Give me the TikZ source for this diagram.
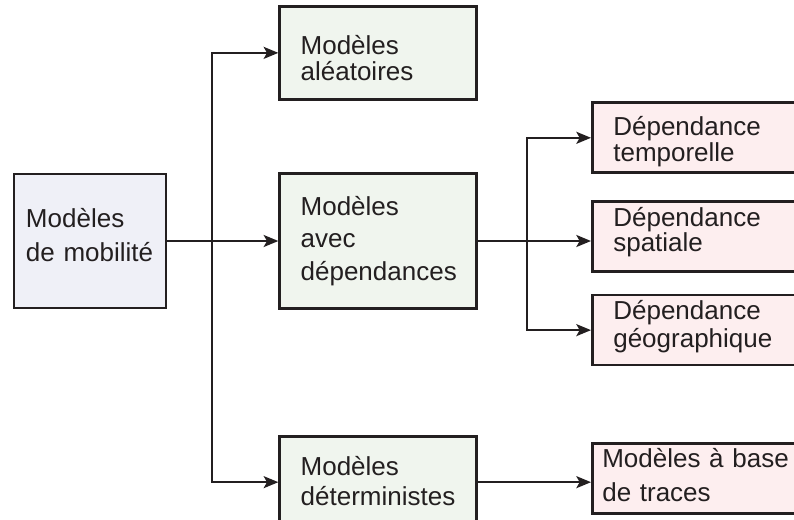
\documentclass[tikz,border=0pt]{standalone}
\usepackage{fontspec}
\setmainfont{Liberation Sans}
\usepackage{xcolor}
\usetikzlibrary{positioning, arrows.meta}

\definecolor{ink}{HTML}{231F20}
\definecolor{srcfill}{HTML}{EFF0F7}
\definecolor{grpfill}{HTML}{F0F5EE}
\definecolor{subfill}{HTML}{FDEEEF}

\begin{document}
\begin{tikzpicture}[x=0.75pt, y=-0.75pt,
                    box/.style={draw=ink, line width=2pt,
                        text=ink, align=left, inner sep=0pt},
                    lh/.style={font=\fontsize{19.5pt}{#1}\selectfont},
                    src/.style={box, fill=srcfill,
                        minimum width=114pt, minimum height=100.5pt,
                        text width=96pt},
                    grp/.style={box, fill=grpfill,
                        minimum width=147.75pt, text width=116.25pt},
                    sub/.style={box, fill=subfill,
                        minimum width=168.75pt, minimum height=52.5pt,
                        text width=137.25pt},
                    arr/.style={-{Stealth[length=11pt, width=9pt, inset=2.5pt]},
                        draw=ink, line width=1.5pt}]
    \useasboundingbox (0,0) rectangle (794,519);
    \clip (0,0) rectangle (794,519);
    \node[src, lh=25.5pt, text height=0pt, text depth=21pt] (mob) at (90,241) {Modèles\\de mobilité};
    \node[grp, lh=24.4pt, minimum height=101.25pt, right=83.25pt of mob] (avec) {Modèles\\avec\\dépendances};
    \node[grp, lh=19.5pt, minimum height=69.75pt, text height=2.25pt, text depth=0pt,
          above=53.6pt of avec] (alea) {Modèles\\aléatoires};
    \node[grp, lh=22.5pt, minimum height=69pt, text height=0pt, text depth=9.75pt,
          below=93.75pt of avec] (det) {Modèles\\déterministes};
    \node[sub, lh=18.75pt, text height=0pt, text depth=14.25pt,
          right=84.75pt of avec, yshift=3.4pt] (spat) {Dépendance\\spatiale};
    \node[sub, lh=19.5pt, text height=0pt, text depth=3.75pt,
          above=19.5pt of spat] (temp) {Dépendance\\temporelle};
    \node[sub, lh=21pt, text height=0pt, text depth=15.75pt,
          below=15.75pt of spat] (geo) {Dépendance\\géographique};
    \node[sub, lh=25pt, text width=153.75pt, text height=0pt, text depth=16.5pt,
          right=84.75pt of det, yshift=2.6pt] (traces) {Modèles à base\\de traces};
    \coordinate[right=33.75pt of mob.east] (bl);
    \coordinate[right=36.75pt of avec.east] (br);
    \draw[arr] (mob.east) -- (mob.east -| avec.west);
    \foreach \v in {alea,det}
        \draw[arr] (bl) |- (\v);
    \draw[arr] (avec.east) -- (avec.east -| spat.west);
    \foreach \v in {temp,geo}
        \draw[arr] (br) |- (\v);
    \draw[arr] (det.east) -- (det.east -| traces.west);
\end{tikzpicture}
\end{document}
